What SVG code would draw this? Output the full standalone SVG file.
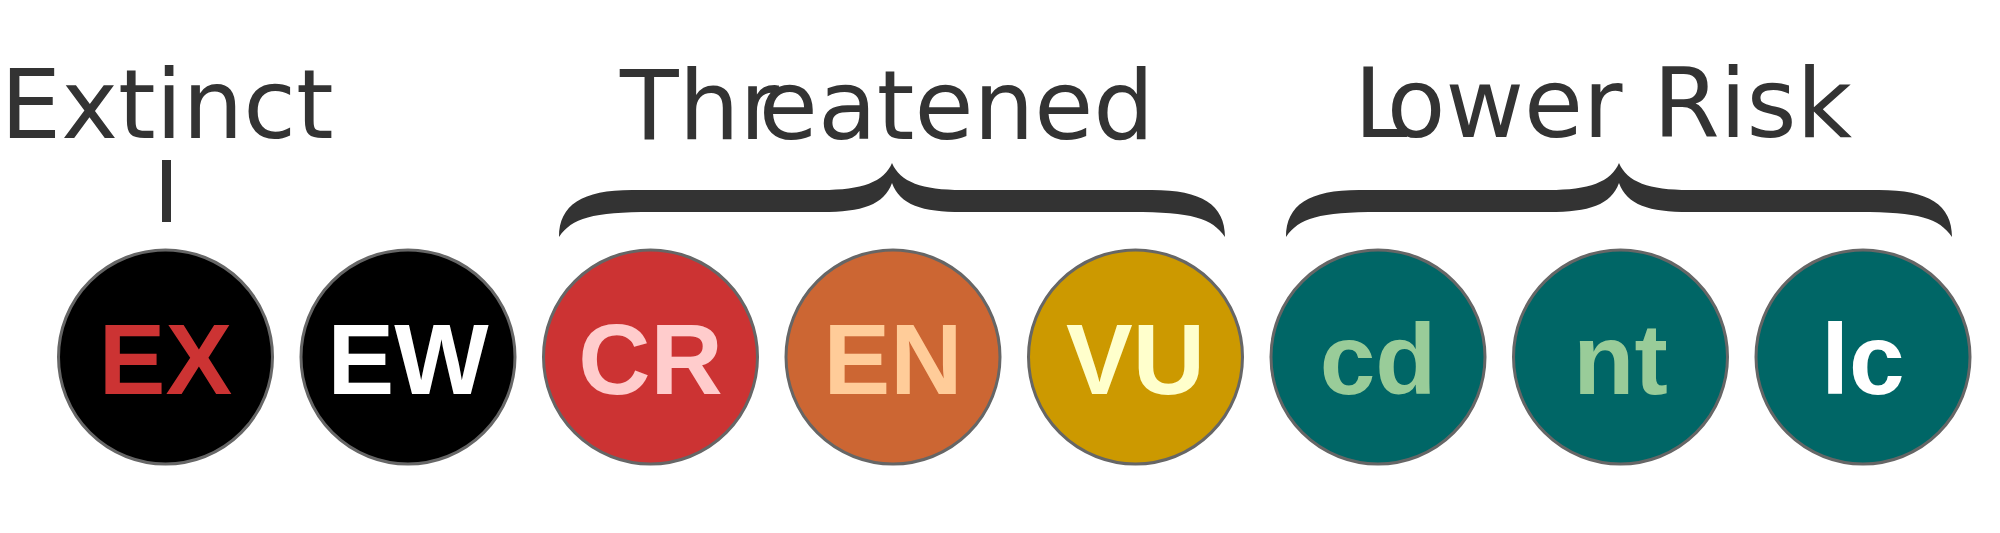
<svg xmlns="http://www.w3.org/2000/svg" width="2000" height="533" viewBox="0 0 2000 533">
<style>
.lbl{font-family:"DejaVu Sans",sans-serif;font-size:96px;fill:#333333}
.node circle{stroke:#666666;stroke-width:3}
.node text{font-family:"Liberation Sans",Arial,sans-serif;font-weight:bold;font-size:100px;text-anchor:middle}
.brace{fill:#333333}
</style>
<defs>
<path id="brace" d="M-333,237 C-333,205 -310,190 -260,190 L-70,190 C-30,190 -8,182 0,163 C8,182 30,190 70,190 L260,190 C310,190 333,205 333,237 C320,218 300,212 240,212 L70,212 C30,212 8,205 0,183 C-8,205 -30,212 -70,212 L-240,212 C-300,212 -320,218 -333,237 Z"/>
</defs>
<rect width="2000" height="533" fill="#ffffff"/>
<g id="labels">
<text class="lbl" x="0.6" y="138">Extinct</text>
<text class="lbl" x="620" y="139" dx="0 0 0 -18">Threatened</text>
<text class="lbl" x="1354" y="137" dx="0 -19">Lower Risk</text>
</g>
<g id="connectors">
<rect x="162" y="160" width="9" height="62" fill="#333333"/>
<use href="#brace" class="brace" transform="translate(892,0)"/>
<use href="#brace" class="brace" transform="translate(1619,0)"/>
</g>
<g id="EX" class="node"><circle cx="165.5" cy="357" r="107" fill="#000000"/><text x="165.5" y="394" fill="#cc3333">EX</text></g>
<g id="EW" class="node"><circle cx="408" cy="357" r="107" fill="#000000"/><text x="408" y="394" fill="#ffffff">EW</text></g>
<g id="CR" class="node"><circle cx="650.5" cy="357" r="107" fill="#cc3333"/><text x="650.5" y="394" fill="#ffcccc">CR</text></g>
<g id="EN" class="node"><circle cx="893" cy="357" r="107" fill="#cc6633"/><text x="893" y="394" fill="#ffcc99">EN</text></g>
<g id="VU" class="node"><circle cx="1135.5" cy="357" r="107" fill="#cc9900"/><text x="1135.5" y="394" fill="#ffffcc">VU</text></g>
<g id="cd" class="node"><circle cx="1378" cy="357" r="107" fill="#006666"/><text x="1378" y="394" fill="#99cc99">cd</text></g>
<g id="nt" class="node"><circle cx="1620.5" cy="357" r="107" fill="#006666"/><text x="1620.5" y="394" fill="#99cc99">nt</text></g>
<g id="lc" class="node"><circle cx="1863" cy="357" r="107" fill="#006666"/><text x="1863" y="394" fill="#ffffff">lc</text></g>
</svg>
